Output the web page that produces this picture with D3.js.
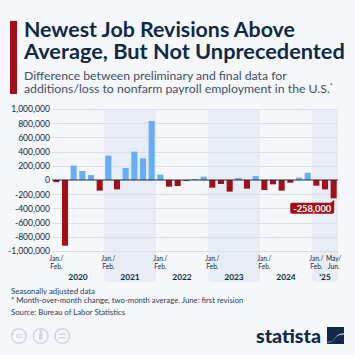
<!DOCTYPE html>
<html><head><meta charset="utf-8">
<script src="https://cdn.jsdelivr.net/npm/d3@7"></script>
<style>html,body{margin:0;padding:0;background:#f5f7fb;}svg{display:block;}</style>
</head><body>
<svg id="c" width="355" height="355"></svg>
<script>
const years = ["2020","2021","2022","2023","2024","'25"];
const periodsPerYear = [6,6,6,6,6,3];
const periodLabels = ["Jan./Feb.","Mar./Apr.","May/Jun.","Jul./Aug.","Sep./Oct.","Nov./Dec."];
const values = [-30000,-925000,202000,127000,70000,-150000,
  343000,-132000,169000,399000,305000,831000,
  75000,-94000,-85000,-12000,14000,47000,
  -108000,-56000,-164000,28000,-122000,56000,
  -141000,-61000,-150000,-38000,33000,103000,
  -80000,-132000,-258000];
const yTicks = [1000000,800000,600000,400000,200000,0,-200000,-400000,-600000,-800000,-1000000];
const axisLabelIdx = [0,6,12,18,24,30,32];
const highlightIdx = 32;

const FONT = "Lato, 'Open Sans', sans-serif";
const navy = "#0f2a46";
const svg = d3.select("#c");
svg.append("rect").attr("width",355).attr("height",355).attr("fill","#f5f7fb");

function fit(sel, target){
  const n = sel.node();
  const w = n.getComputedTextLength();
  const fs = parseFloat(sel.attr("font-size"));
  sel.attr("font-size", (fs*target/w).toFixed(2));
  return sel;
}

// header
svg.append("rect").attr("x",10).attr("y",21).attr("width",7).attr("height",73).attr("fill","#a30f18");
const title = svg.append("text").attr("font-family",FONT).attr("font-weight",700).attr("fill",navy);
fit(title.append("tspan").attr("x",24).attr("y",36.7).attr("font-size",22).text("Newest Job Revisions Above"), 271);
fit(title.append("tspan").attr("x",24).attr("y",59.3).attr("font-size",22).text("Average, But Not Unprecedented"), 321);
fit(svg.append("text").attr("x",24).attr("y",79.5).attr("font-family",FONT)
  .attr("font-size",12).attr("fill","#3e4f6a").text("Difference between preliminary and final data for"), 263);
const sub2 = svg.append("text").attr("x",24).attr("y",93).attr("font-family",FONT)
  .attr("font-size",12).attr("fill","#3e4f6a");
sub2.append("tspan").text("additions/loss to nonfarm payroll employment in the U.S.");
sub2.append("tspan").attr("font-size",7).attr("dy",-4).text("*");
fit(sub2, 309);

// scales
const idx = d3.range(values.length);
const x = d3.scaleBand().domain(idx).range([52,338]).paddingInner(0.3).paddingOuter(0.15);
const y = d3.scaleLinear().domain([-1000000,1000000]).range([251,109]);
const step = x.step();
const left = i => x(i) - x.paddingInner()*step/2;

// year bands
let start = 0;
const yearStarts = [];
years.forEach((yr,k)=>{ yearStarts.push(start); start += periodsPerYear[k]; });
years.forEach((yr,k)=>{
  if(k%2===1){
    const x0 = left(yearStarts[k]), x1 = left(yearStarts[k]) + periodsPerYear[k]*step;
    svg.append("path").attr("fill","#e8edf5")
      .attr("d", `M${x0},${y(1000000)}H${x1}V${282-4}Q${x1},282 ${x1-4},282H${x0+4}Q${x0},282 ${x0},${278}Z`);
  }
});

// grid
const xl = 52, xr = 338;
svg.append("g").selectAll("line").data(yTicks.filter(t=>t!==0)).join("line")
  .attr("x1",xl).attr("x2",xr).attr("y1",d=>Math.round(y(d))+0.5).attr("y2",d=>Math.round(y(d))+0.5)
  .attr("stroke","#dbe1ea").attr("stroke-width",1);

// y axis labels
const yAxis = d3.axisLeft(y).tickValues(yTicks).tickSize(0).tickPadding(0)
  .tickFormat(d3.format(","));
const ya = svg.append("g").attr("transform","translate(50,0)").call(yAxis);
ya.select(".domain").remove();
ya.selectAll("text").attr("font-family",FONT).attr("font-size",8.6).attr("fill",navy).attr("dy","0.34em")
  .text(d=>d3.format(",")(d).replace("−","-"));

// bars
svg.append("g").selectAll("rect").data(values).join("rect")
  .attr("x",(d,i)=>x(i)).attr("width",x.bandwidth())
  .attr("y",d=>d>=0?y(d):y(0)).attr("height",d=>Math.abs(y(d)-y(0)))
  .attr("fill",d=>d>=0?"#66aef7":"#a30f18");

// zero line
svg.append("line").attr("x1",xl).attr("x2",xr).attr("y1",y(0)).attr("y2",y(0))
  .attr("stroke","#1c2b40").attr("stroke-width",1);

// highlight label
{
  const v = values[highlightIdx];
  const bx = x(highlightIdx)+x.bandwidth();
  const by = y(v);
  const w = 44, h = 11;
  const rx = bx-2.5, top = by+4.5;
  const g = svg.append("g");
  g.append("rect").attr("x",rx-w).attr("y",top).attr("width",w).attr("height",h).attr("rx",2).attr("fill","#a30f18");
  g.append("path").attr("d",`M${rx-4},${top+0.5}L${rx},${by+1.5}L${rx},${top+3}Z`).attr("fill","#a30f18");
  const t = g.append("text").attr("x",rx-w/2).attr("y",top+h/2).attr("dy","0.35em").attr("text-anchor","middle")
    .attr("font-family",FONT).attr("font-weight",700).attr("font-size",10).attr("fill","#fff")
    .text(d3.format(",")(v).replace("−","-"));
  fit(t,38);
}

// x labels
axisLabelIdx.forEach(i=>{
  const k = years.findIndex((yy,kk)=>i>=yearStarts[kk] && i<yearStarts[kk]+periodsPerYear[kk]);
  const p = periodLabels[i - yearStarts[k]];
  const parts = p.split("/");
  const cx = x(i)+x.bandwidth()/2;
  [[parts[0]+"/",260.8],[parts[1],268.6]].forEach(([s,yy])=>{
    svg.append("text").attr("x",cx).attr("y",yy).attr("text-anchor","middle").attr("font-family",FONT)
      .attr("font-size",6.6).attr("fill",navy).text(s);
  });
});
years.forEach((yr,k)=>{
  const cx = left(yearStarts[k]) + periodsPerYear[k]*step/2;
  svg.append("text").attr("x",cx).attr("y",279.5).attr("text-anchor","middle").attr("font-family",FONT)
    .attr("font-weight",700).attr("font-size",8.4).attr("fill",navy).text(yr);
});

// footer
const foot = [["Seasonally adjusted data",293.5,84],["* Month-over-month change, two-month average. June: first revision",302.5,232],["Source: Bureau of Labor Statistics",315,114]];
foot.forEach(([s,yy,w])=>{
  fit(svg.append("text").attr("x",11).attr("y",yy).attr("font-family",FONT).attr("font-size",7.2).attr("fill","#2a3d5a").text(s), w);
});

// cc icons
const icc = svg.append("g").attr("fill","none").attr("stroke","#cfd5de").attr("stroke-width",1.4);
[19,40.7,62.3].forEach(cx=>icc.append("circle").attr("cx",cx).attr("cy",336).attr("r",7.3));
svg.append("text").attr("x",19).attr("y",336).attr("dy","0.35em").attr("text-anchor","middle").attr("font-family",FONT)
  .attr("font-weight",700).attr("font-size",7).attr("fill","#cfd5de").text("cc");
svg.append("circle").attr("cx",40.7).attr("cy",331.5).attr("r",1.4).attr("fill","#cfd5de");
svg.append("rect").attr("x",39).attr("y",333.5).attr("width",3.4).attr("height",6).attr("rx",0.8).attr("fill","#cfd5de");
svg.append("rect").attr("x",58.8).attr("y",333.6).attr("width",7).attr("height",1.4).attr("fill","#cfd5de");
svg.append("rect").attr("x",58.8).attr("y",337).attr("width",7).attr("height",1.4).attr("fill","#cfd5de");

// statista logo
fit(svg.append("text").attr("x",256).attr("y",343).attr("font-family",FONT).attr("font-weight",900)
  .attr("font-size",19).attr("fill",navy).text("statista"), 65);
svg.append("path").attr("fill",navy)
  .attr("d","M327,327H344V333.5C339,333.5 337,335 335,338C333,341 331,342 327,342Z M344,344H327V342.5C331,342.5 333,341 335,338.5C337,335.5 339,334.5 344,334.5Z");
</script>
</body></html>
